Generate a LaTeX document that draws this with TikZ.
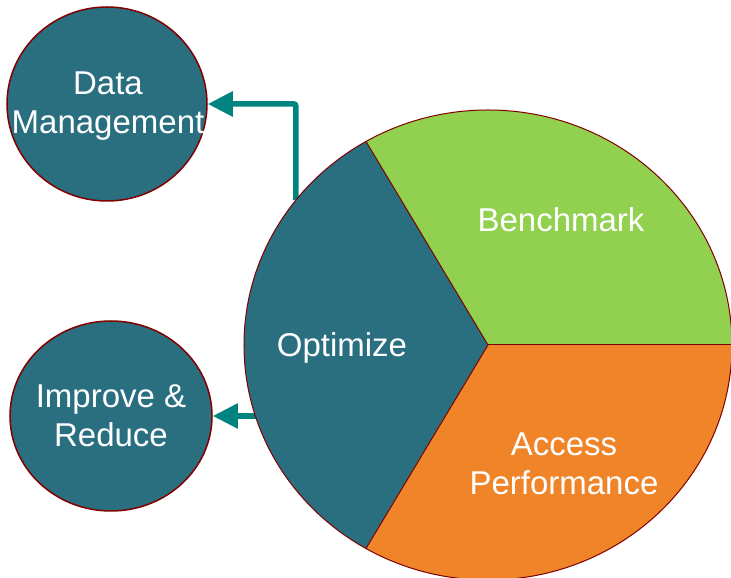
\documentclass[tikz,border=0pt]{standalone}
\usepackage{fontspec}
\setmainfont{Liberation Sans}
\usetikzlibrary{shapes.geometric,arrows.meta}
\definecolor{petrol}{RGB}{42,111,128}
\definecolor{leaf}{RGB}{146,208,80}
\definecolor{tangerine}{RGB}{240,132,40}
\definecolor{rimred}{RGB}{128,0,0}
\definecolor{arrowteal}{RGB}{0,132,127}

\begin{document}
\begin{tikzpicture}[x=1pt,y=1pt,
  bubble/.style={ellipse,draw=rimred,line width=1.5pt,fill=petrol,inner sep=0pt},
  word/.style={text=white,align=center,inner sep=0pt,font=\fontsize{33}{39}\selectfont},
  feed/.style={draw=arrowteal,line width=5.5pt,rounded corners=2pt,-{Triangle[length=25pt,width=24pt]}}]
\useasboundingbox (0,0) rectangle (731,578);
\clip (0,0) rectangle (731,578);

% side circles
\node[bubble,minimum width=200pt,minimum height=194pt] (dm) at (107,474) {};
\node[word] (dmtext) at (108,472) {Data\\Management};
\node[bubble,minimum width=202pt,minimum height=190pt] (ir) at (111,162) {};
\node[word] (irtext) at (ir) {Improve \&\\Reduce};

% big pie
\node[ellipse,minimum width=488pt,minimum height=470pt,inner sep=0pt,outer sep=0pt] (pie) at (488,233) {};
\draw[feed] (pie.143) |- (dm.east);
\draw[feed] (ir.east -| pie.center) -- (ir.east);
\foreach \a/\col in {0/leaf,120/petrol,240/tangerine}
  \fill[\col] (pie.center) -- ++(\a:244 and 235) arc[start angle=\a,delta angle=120,x radius=244,y radius=235] -- cycle;
\draw[rimred,line width=1pt] (pie.center) ellipse[x radius=244,y radius=235];
\foreach \a in {0,120,240}
  \draw[rimred,line width=1pt] (pie.center) -- ++(\a:244 and 235);

\node[word] (bench) at (561,358) {Benchmark};
\node[word,anchor=base] (opt) at (342,221) {Optimize};
\node[word] (acc) at (564,114) {Access\\Performance};
\end{tikzpicture}
\end{document}
